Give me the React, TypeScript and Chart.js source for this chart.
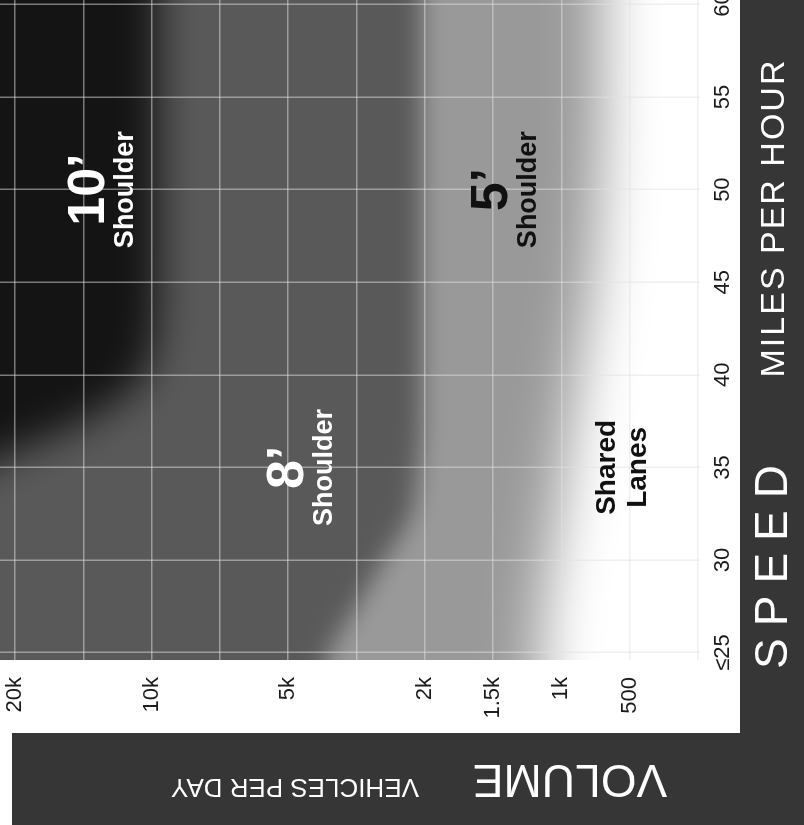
import React, { useEffect, useRef } from "react";
import { Chart, registerables } from "chart.js";

Chart.register(...registerables);

// ---- axis ticks ----
const speedTicks = [25, 30, 35, 40, 45, 50, 55, 60];
const speedTickLabels = ["≤25", "30", "35", "40", "45", "50", "55", "60"];
const volumeTicks = [0, 1, 2, 3, 4, 5, 6, 7, 8, 9, 10];
const volumeTickLabels = ["20k", "", "10k", "", "5k", "", "2k", "1.5k", "1k", "500", ""];

// ---- zone boundaries (volume tick position, 0 = 20k) by speed ----
const boundarySpeeds = [20, 25, 27.5, 30, 32.5, 35, 37.5, 40, 45, 50, 55, 60, 65];
const fiveFootEdge = [7.7, 7.7, 7.75, 7.85, 7.95, 8.05, 8.15, 8.25, 8.45, 8.55, 8.6, 8.6, 8.6];
const eightFootEdge = [4.4, 4.6, 5.0, 5.4, 5.8, 5.9, 5.95, 5.95, 5.95, 5.95, 5.95, 5.95, 5.95];
const tenFootEdge = [-1.5, -1.5, -1.5, -1.5, -1.2, -0.5, 1.0, 1.9, 2.1, 2.1, 2.1, 2.1, 2.1];

// ---- zone labels ----
const zoneTitles = ["10’", "8’", "5’", "Shared"];
const zoneSubtitles = ["Shoulder", "Shoulder", "Shoulder", "Lanes"];
const zoneSpeeds = [50, 35, 50, 35];
const zoneVolumes = [1.36, 4.27, 7.26, 8.89];

const FONT = '"Liberation Sans", Arial, Helvetica, sans-serif';
const PANEL = "#363636";

const blurPlugin = {
  id: "zoneBlur",
  beforeDatasetsDraw(chart: any) {
    const metas = chart.getSortedVisibleDatasetMetas();
    const first = metas[metas.length - 1];
    const b = first ? chart.data.datasets[first.index].blurPx || 0 : 0;
    chart.ctx.filter = `blur(${b}px)`;
  },
  afterDatasetDraw(chart: any, args: any) {
    const metas = chart.getSortedVisibleDatasetMetas();
    const pos = metas.findIndex((m: any) => m.index === args.index);
    const next = metas[pos - 1];
    chart.ctx.filter = next ? `blur(${chart.data.datasets[next.index].blurPx || 0}px)` : "none";
  },
  afterDatasetsDraw(chart: any) {
    chart.ctx.filter = "none";
  },
};

const decorPlugin = {
  id: "decor",
  afterDraw(chart: any) {
    const ctx: any = chart.ctx;
    const xs = chart.scales.x;
    const ys = chart.scales.y;
    ctx.save();
    ctx.filter = "none";
    // zone labels
    zoneTitles.forEach((t, i) => {
      const px = xs.getPixelForValue(zoneSpeeds[i]);
      const py = ys.getPixelForValue(zoneVolumes[i]);
      ctx.textBaseline = "middle";
      ctx.textAlign = "center";
      if (i === 3) {
        ctx.fillStyle = "#111";
        ctx.font = `bold 28px ${FONT}`;
        ctx.fillText(t, px, py - 15);
        ctx.fillText(zoneSubtitles[i], px, py + 16);
      } else {
        ctx.fillStyle = i === 2 ? "#111" : "#fff";
        ctx.font = `bold 52px ${FONT}`;
        ctx.fillText(t, px, py - 18);
        ctx.font = `bold 27px ${FONT}`;
        ctx.fillText(zoneSubtitles[i], px, py + 18);
      }
    });
    // title panels
    ctx.fillStyle = PANEL;
    ctx.fillRect(0, 12, 92, 792);
    ctx.fillRect(0, 740, 825, 64);
    ctx.fillStyle = "#fff";
    ctx.textAlign = "center";
    ctx.textBaseline = "middle";
    ctx.font = `46px ${FONT}`;
    ctx.letterSpacing = "12px";
    ctx.fillText("SPEED", 264, 774);
    ctx.font = `34px ${FONT}`;
    ctx.letterSpacing = "2px";
    ctx.fillText("MILES PER HOUR", 607, 775);
    ctx.letterSpacing = "0px";
    // volume title (rotated)
    ctx.save();
    ctx.translate(47, 570);
    ctx.rotate(-Math.PI / 2);
    ctx.font = `46px ${FONT}`;
    ctx.fillText("VOLUME", 0, 0);
    ctx.restore();
    ctx.save();
    ctx.translate(39, 295);
    ctx.rotate(-Math.PI / 2);
    ctx.font = `26px ${FONT}`;
    ctx.fillText("VEHICLES PER DAY", 0, 0);
    ctx.restore();
    ctx.restore();
  },
};

function zone(edge: number[], color: string, blurPx: number) {
  return {
    data: boundarySpeeds.map((s, i) => ({ x: s, y: edge[i] })),
    fill: { value: -4 },
    backgroundColor: color,
    borderWidth: 0,
    pointRadius: 0,
    cubicInterpolationMode: "monotone",
    blurPx,
  };
}

export default function App() {
  const ref = useRef<HTMLCanvasElement>(null);
  useEffect(() => {
    const canvas = ref.current!;
    const gridColor = "rgba(225,225,225,0.5)";
    const tickFont = { family: FONT, size: 22 };
    const chart = new Chart(canvas, {
      type: "line",
      data: {
        datasets: [
          zone(tenFootEdge, "rgba(0,0,0,0.78)", 20),
          zone(eightFootEdge, "rgba(0,0,0,0.42)", 12),
          zone(fiveFootEdge, "rgba(0,0,0,0.40)", 28),
        ] as any,
      },
      options: {
        responsive: false,
        animation: false,
        devicePixelRatio: 1,
        layout: { padding: 0 },
        plugins: {
          legend: { display: false },
          tooltip: { enabled: false },
        },
        scales: {
          x: {
            type: "linear",
            position: "bottom",
            min: 24.6,
            max: 60.24,
            afterBuildTicks: (s: any) => {
              s.ticks = speedTicks.map((v) => ({ value: v }));
            },
            afterFit: (s: any) => {
              s.height = 104;
              s.paddingLeft = 0;
              s.paddingRight = 0;
            },
            ticks: {
              callback: (_v: any, i: number) => speedTickLabels[i],
              font: tickFont,
              color: "#1a1a1a",
              padding: 10,
              maxRotation: 0,
              autoSkip: false,
            },
            grid: { color: gridColor, lineWidth: 1.5, drawTicks: false, z: 1 },
            border: { display: false },
          },
          y: {
            type: "linear",
            reverse: true,
            min: -0.22,
            max: 10.03,
            afterBuildTicks: (s: any) => {
              s.ticks = volumeTicks.map((v) => ({ value: v }));
            },
            afterFit: (s: any) => {
              s.width = 165;
              s.paddingTop = 0;
              s.paddingBottom = 0;
            },
            ticks: {
              callback: (_v: any, i: number) => volumeTickLabels[i],
              font: tickFont,
              color: "#1a1a1a",
              padding: 17,
              autoSkip: false,
            },
            grid: { color: gridColor, lineWidth: 1.5, drawTicks: false, z: 1 },
            border: { display: false },
          },
        },
      } as any,
      plugins: [blurPlugin, decorPlugin],
    });
    return () => chart.destroy();
  }, []);
  return (
    <div
      style={{
        position: "fixed",
        left: 0,
        top: 0,
        width: 804,
        height: 825,
        overflow: "hidden",
        background: "#fff",
      }}
    >
      <div
        style={{
          position: "absolute",
          left: 0,
          top: 0,
          width: 825,
          height: 804,
          transformOrigin: "0 0",
          transform: "translate(0px, 825px) rotate(-90deg)",
        }}
      >
        <canvas ref={ref} width={825} height={804} style={{ display: "block", width: 825, height: 804 }} />
      </div>
    </div>
  );
}
